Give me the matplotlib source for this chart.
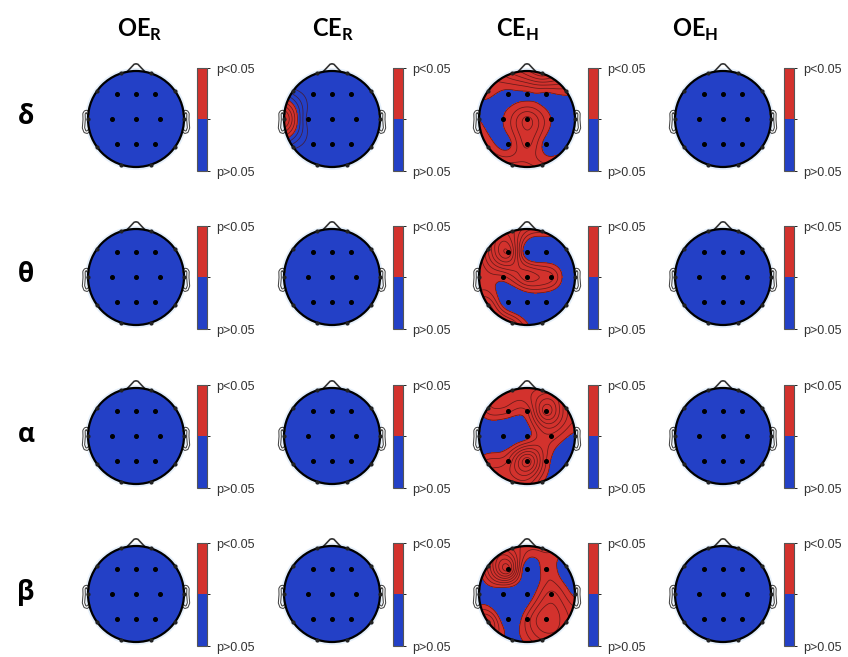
import numpy as np
import matplotlib
matplotlib.use("Agg")
import matplotlib.pyplot as plt
from matplotlib.colors import ListedColormap, BoundaryNorm
from matplotlib.patches import Circle
from matplotlib.cm import ScalarMappable

plt.rcParams['mathtext.fontset'] = 'custom'
plt.rcParams['mathtext.bf'] = 'Lato:bold'
plt.rcParams['mathtext.rm'] = 'Lato'

# electrodes (10-20), rim ones sit on the head outline
electrodes = ['Fp1', 'Fp2', 'F7', 'F3', 'Fz', 'F4', 'F8', 'T3', 'C3', 'Cz',
              'C4', 'T4', 'T5', 'P3', 'Pz', 'P4', 'T6', 'O1', 'O2']
elec_x = [-0.31, 0.31, -0.81, -0.40, 0.00, 0.40, 0.81, -1.00, -0.51, 0.00,
          0.51, 1.00, -0.81, -0.40, 0.00, 0.40, 0.81, -0.31, 0.31]
elec_y = [0.95, 0.95, 0.59, 0.52, 0.52, 0.52, 0.59, 0.00, 0.00, 0.00,
          0.00, 0.00, -0.59, -0.52, -0.52, -0.52, -0.59, -0.95, -0.95]
on_rim = [1, 1, 1, 0, 0, 0, 1, 1, 0, 0, 0, 1, 1, 0, 0, 0, 1, 1, 1]

conditions = ['OE_R', 'CE_R', 'CE_H', 'OE_H']
col_titles = [r'$\mathbf{OE}_{\mathbf{R}}$', r'$\mathbf{CE}_{\mathbf{R}}$',
              r'$\mathbf{CE}_{\mathbf{H}}$', r'$\mathbf{OE}_{\mathbf{H}}$']
bands = ['δ', 'θ', 'α', 'β']

# significance (-log10 p) per electrode, same order as electrodes
flat = [0.3, 0.3, 0.3, 0.3, 0.3, 0.3, 0.3, 0.3, 0.3, 0.3,
        0.3, 0.3, 0.3, 0.3, 0.3, 0.3, 0.3, 0.3, 0.3]
ce_r_delta = [0.1, 0.1, 0.5, 0.2, 0.1, 0.1, 0.1, 2.6, 0.3, 0.1,
              0.1, 0.1, 0.5, 0.2, 0.1, 0.1, 0.1, 0.1, 0.1]
ce_h_delta = [2.2, 3.0, 1.4, 1.15, 1.2, 1.2, 1.5, 1.3, 1.28, 2.3,
              1.28, 0.8, 1.6, 1.15, 2.0, 1.1, 1.2, 2.0, 1.7]
ce_h_theta = [2.6, 1.7, 2.2, 3.4, 0.8, 0.7, 0.9, 1.25, 1.5, 2.4,
              2.0, 0.7, 2.3, 0.7, 0.7, 0.6, 0.5, 2.1, 0.7]
ce_h_alpha = [2.0, 2.3, 1.8, 1.7, 1.6, 3.3, 2.0, 0.6, 0.6, 1.1,
              1.8, 1.2, 1.8, 1.9, 3.3, 1.6, 0.8, 2.0, 1.4]
ce_h_beta = [2.2, 1.7, 2.0, 3.5, 0.8, 1.6, 0.9, 0.9, 0.7, 0.9,
             2.0, 1.2, 2.3, 0.8, 1.7, 2.5, 2.0, 1.1, 1.9]

maps = {
    ('OE_R', 'δ'): flat, ('CE_R', 'δ'): ce_r_delta, ('CE_H', 'δ'): ce_h_delta, ('OE_H', 'δ'): flat,
    ('OE_R', 'θ'): flat, ('CE_R', 'θ'): flat, ('CE_H', 'θ'): ce_h_theta, ('OE_H', 'θ'): flat,
    ('OE_R', 'α'): flat, ('CE_R', 'α'): flat, ('CE_H', 'α'): ce_h_alpha, ('OE_H', 'α'): flat,
    ('OE_R', 'β'): flat, ('CE_R', 'β'): flat, ('CE_H', 'β'): ce_h_beta, ('OE_H', 'β'): flat,
}

THRESH = 1.3
STEP = 0.3
BLUE = '#2340c6'
RED = '#d3322d'

col_cx = [136, 332, 527, 723]
row_cy = [119, 277, 436, 594]
title_x = [140, 333, 517, 695]

W, H = 848, 657
fig = plt.figure(figsize=(W / 100, H / 100), dpi=100)

R_PX = 48.0
HALF = 1.3


def px_axes(cx, cy, w, h):
    return fig.add_axes([(cx - w / 2) / W, 1 - (cy + h / 2) / H, w / W, h / H])


ear_x = np.array([.497, .510, .518, .5299, .5419, .54, .547, .532, .510, .489]) * 2
ear_y = np.array([.0555, .0775, .0783, .0746, .0555, -.0055, -.0932, -.1313, -.1384, -.1199]) * 2
nose_x = np.array([.09, .02, 0, -.02, -.09]) * 2
nose_y = np.array([.4954, .57, .575, .57, .4954]) * 2

gx, gy = np.meshgrid(np.linspace(-1.05, 1.05, 221), np.linspace(-1.05, 1.05, 221))


def green(d):
    # biharmonic spline kernel (same idea as griddata 'v4' used by topoplot)
    out = np.zeros_like(d)
    nz = d > 0
    out[nz] = d[nz] ** 2 * (np.log(d[nz]) - 1)
    return out


def surface(vals):
    x = np.array(elec_x)
    y = np.array(elec_y)
    z = np.array(vals, float)
    d = np.hypot(x[:, None] - x[None, :], y[:, None] - y[None, :])
    w = np.linalg.solve(green(d), z)
    dg = np.hypot(gx[..., None] - x, gy[..., None] - y)
    return green(dg) @ w


def topo(ax, vals, below=0):
    x = np.array(elec_x)
    y = np.array(elec_y)
    rim = np.array(on_rim, bool)
    zz = surface(vals)

    ax.add_patch(Circle((0, 0), 1.06, fc='#e6f0fb', ec='none', zorder=0))
    clip = Circle((0, 0), 1.0, transform=ax.transData)
    cf = ax.contourf(gx, gy, zz, levels=[-50, THRESH, 50], colors=[BLUE, RED], zorder=1)
    cf.set_clip_path(clip)
    lv = THRESH + STEP * np.arange(-below, 20)
    lv = lv[(lv > zz.min()) & (lv < zz.max())]
    if len(lv) and zz.max() - zz.min() > 1e-6:
        cl = ax.contour(gx, gy, zz, levels=lv, colors='#4a1515', linewidths=0.55,
                        alpha=0.8, zorder=2)
        cl.set_clip_path(clip)

    ax.add_patch(Circle((0, 0), 1.0, fill=False, ec='k', lw=1.6, zorder=5))
    for sx in (1, -1):
        ax.plot(sx * ear_x, ear_y, color='#444444', lw=2.4, zorder=4, solid_capstyle='round')
        ax.plot(sx * ear_x, ear_y, color='white', lw=0.9, zorder=4)
    ax.plot(nose_x, nose_y, color='#333333', lw=1.2, zorder=4)
    ax.plot(x[~rim], y[~rim], 'o', color='k', ms=2.6, zorder=6)
    ax.plot(x[rim], y[rim], 'o', color='#222222', ms=2.0, zorder=6)

    ax.set_xlim(-HALF, HALF)
    ax.set_ylim(-HALF, HALF)
    ax.set_aspect('equal')
    ax.axis('off')


cmap = ListedColormap([BLUE, RED])
norm = BoundaryNorm([0, 1, 2], 2)

for j, cond in enumerate(conditions):
    fig.text(title_x[j] / W, 1 - 30 / H, col_titles[j], fontsize=17, ha='center', va='center')
    for i, band in enumerate(bands):
        cx, cy = col_cx[j], row_cy[i]
        size = 2 * HALF * R_PX
        ax = px_axes(cx, cy, size, size)
        below = 3 if (cond, band) == ('CE_R', 'δ') else 0
        topo(ax, maps[(cond, band)], below)

        cax = px_axes(cx + 66, cy, 10, 103)
        cb = fig.colorbar(ScalarMappable(norm=norm, cmap=cmap), cax=cax)
        cb.set_ticks([])
        cb.outline.set_edgecolor('#555555')
        cb.outline.set_linewidth(0.8)
        cax.text(1.9, 0.975, 'p<0.05', transform=cax.transAxes, va='center', ha='left',
                 fontsize=9, color='#333333', family='Liberation Sans')
        cax.text(1.9, -0.025, 'p>0.05', transform=cax.transAxes, va='center', ha='left',
                 fontsize=9, color='#333333', family='Liberation Sans')

for i, band in enumerate(bands):
    fig.text(26 / W, 1 - (row_cy[i] - 2) / H, band, fontsize=19, fontweight='bold',
             ha='center', va='center', family=['Open Sans', 'DejaVu Sans'])

fig.savefig('out.png', dpi=100, facecolor='white')
